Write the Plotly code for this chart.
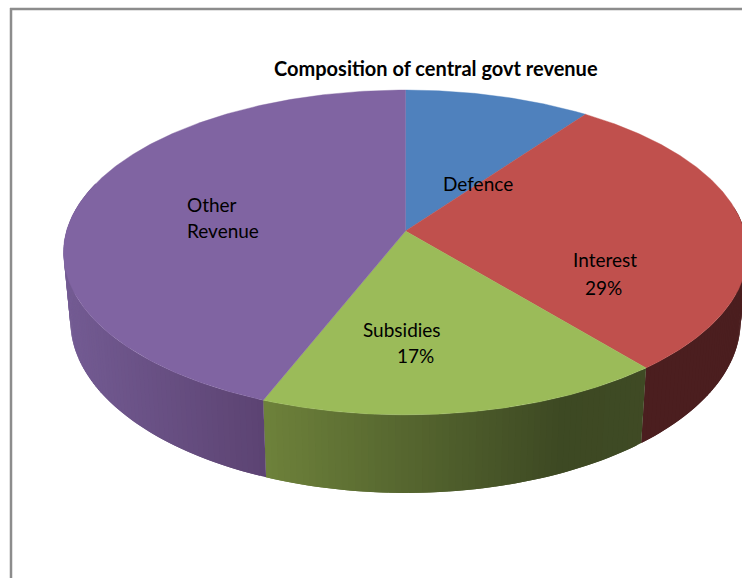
import numpy as np
import plotly.graph_objects as go

# Share of each head, clockwise from twelve o'clock
categories = ["Defence", "Interest", "Subsidies", "Other Revenue"]
values = [10, 29, 17, 44]
top_colors = ["#4f81bd", "#c0504d", "#9bbb59", "#8064a2"]

# Rim shading per slice: (screen x, rgb) stops
rim_shades = {
    "Defence": [(0, (50, 80, 120)), (742, (50, 80, 120))],
    "Interest": [(0, (75, 30, 31)), (742, (75, 30, 31))],
    "Subsidies": [(262, (110, 130, 59)), (380, (90, 107, 49)),
                  (560, (61, 73, 35)), (650, (63, 74, 36))],
    "Other Revenue": [(60, (116, 92, 148)), (265, (92, 67, 114))],
}

title_text = "Composition of central govt revenue"

# Perspective model of the disc
CX, CY = 405.5, 231.0
A, B, P = 339.0, 159.6, 0.132
SX, SY, DROP = 0.98, 1.06, 67.0


def top_xy(theta):
    u, v = np.sin(theta), np.cos(theta)
    w = 1 + P * v
    return CX + A * u / w, CY - B * v / w


def bottom_xy(theta):
    x, y = top_xy(theta)
    return CX + (x - CX) * SX, CY + (y - CY) * SY + DROP


def shade(stops, x):
    xs = [s[0] for s in stops]
    rgb = [np.interp(x, xs, [s[1][i] for s in stops]) for i in range(3)]
    return "rgb({:.0f},{:.0f},{:.0f})".format(*rgb)


fig = go.Figure()
edges = np.concatenate([[0], np.cumsum(values)]) / sum(values) * 2 * np.pi

# Rim first, as shaded quads along the front of each slice. Each quad runs
# two steps and the next one paints over its far half, which hides any seam.
for name, a0, a1 in zip(categories, edges[:-1], edges[1:]):
    lo, hi = max(a0, np.pi * 0.45), min(a1, np.pi * 1.6)
    if hi <= lo:
        continue
    steps = max(2, int((hi - lo) / np.radians(1.0)))
    ts = np.linspace(lo, hi, steps + 1)
    for i in range(steps):
        arc = ts[i:min(i + 3, steps + 1)]
        xa, ya = top_xy(arc)
        xb, yb = bottom_xy(arc[::-1])
        color = shade(rim_shades[name], (xa[:2].mean() + xb[-2:].mean()) / 2)
        fig.add_trace(go.Scatter(
            x=[*xa, *xb, xa[0]], y=[*ya, *yb, ya[0]], mode="lines",
            fill="toself", fillcolor=color, line=dict(color=color, width=0),
            name=name, hoverinfo="skip", showlegend=False))

# Top face of every slice
for name, a0, a1, color in zip(categories, edges[:-1], edges[1:], top_colors):
    ts = np.linspace(a0, a1, 240)
    xs, ys = top_xy(ts)
    fig.add_trace(go.Scatter(
        x=[CX, *xs, CX], y=[CY, *ys, CY], mode="lines", fill="toself",
        fillcolor=color, line=dict(color=color, width=0.4),
        name=name, hoverinfo="skip", showlegend=False))

# Slice labels, one entry per text line
labels = [
    ("Defence", 443, 183),
    ("Interest", 573, 259),
    (f"{values[1]}%", 585, 287),
    ("Subsidies", 363, 329),
    (f"{values[2]}%", 397, 355),
    ("Other", 187, 204),
    ("Revenue", 187, 230),
]
for text, x, y in labels:
    fig.add_annotation(x=x, y=y, text=text, showarrow=False, xanchor="left",
                       yanchor="middle", xshift=-2,
                       font=dict(family="Lato", size=19, color="#000000"))

fig.add_annotation(x=435.5, y=68, text=f"<b>{title_text}</b>", showarrow=False,
                   xanchor="center", yanchor="middle",
                   font=dict(family="Lato", size=20, color="#000000"))

# Chart area border, open on the right
frame = dict(color="#8c8c8c", width=2.5)
fig.add_shape(type="line", x0=11, x1=11, y0=8, y1=578, line=frame)
fig.add_shape(type="line", x0=10, x1=742, y0=9, y1=9, line=frame)

fig.update_xaxes(range=[0, 742], visible=False, fixedrange=True)
fig.update_yaxes(range=[578, 0], visible=False, fixedrange=True)
fig.update_layout(width=742, height=578, margin=dict(l=0, r=0, t=0, b=0),
                  paper_bgcolor="white", plot_bgcolor="white", showlegend=False)

fig.write_html("out.html", config=dict(displayModeBar=False))
